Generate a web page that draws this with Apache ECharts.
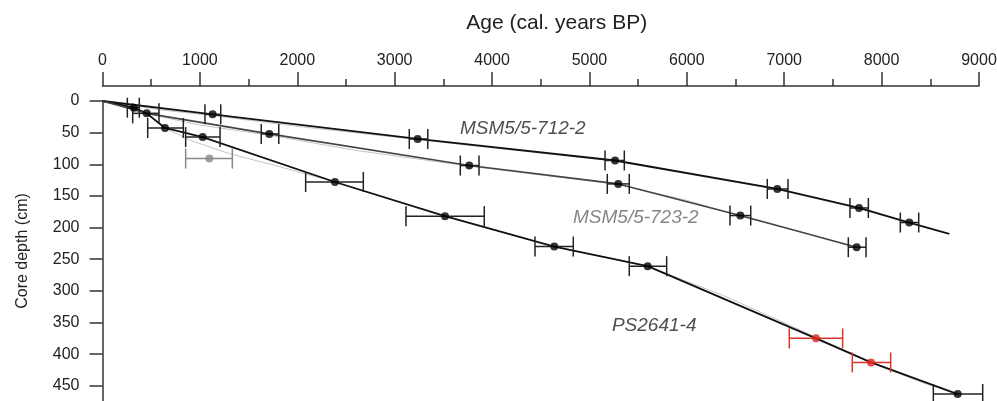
<!DOCTYPE html>
<html>
<head>
<meta charset="utf-8">
<script src="https://cdn.jsdelivr.net/npm/echarts@6/dist/echarts.min.js"></script>
<style>
  html, body { margin: 0; padding: 0; background: #fff; }
  #chart { width: 997px; height: 401px; }
</style>
</head>
<body>
<div id="chart"></div>
<script>
// age-depth models [age, depth]
var ps2641Line = [[0, 0], [323, 10.6], [454, 19.5], [642, 42.6], [1029, 57], [2387, 128], [3517, 182], [4639, 230], [5598, 261], [7326, 375], [7891, 413], [8781, 463]];
var msm712Line = [[0, 0], [1131, 21], [3236, 60], [5263, 94], [6929, 139], [7768, 169], [8284, 192], [8695, 210]];
var msm723Line = [[0, 0], [454, 19.5], [1713, 52], [3766, 102], [5296, 131], [6549, 181], [7744, 231]];

// alternative models (thin grey)
var ps2641Alt = [[0, 0], [323, 11], [454, 20], [642, 43], [900, 62], [1300, 83], [1800, 103], [2387, 128], [3517, 182], [4639, 230], [5598, 261], [6400, 309], [7326, 373], [7891, 413], [8400, 444], [8781, 463]];
var msm712Alt = [[0, 0], [600, 14], [1131, 23], [2000, 40], [3236, 61], [5263, 95], [6929, 140], [7768, 170], [8284, 193]];
var msm723Alt = [[0, 0], [454, 20], [1000, 38], [1713, 54], [2600, 78], [3766, 103], [5296, 132], [6000, 157], [6549, 182], [7200, 208], [7744, 232]];

// dated samples [age, depth, ageMin, ageMax]
var datesBlack = [
    [323, 10.6, 255, 378], [454, 19.5, 310, 580], [642, 42.6, 464, 830], [1029, 57, 854, 1207],
    [2387, 128, 2086, 2678], [3517, 182, 3116, 3920], [4639, 230, 4441, 4834], [5598, 261, 5409, 5793],
    [8781, 463, 8531, 9038],
    [1131, 21, 1052, 1214], [3236, 60, 3150, 3340], [5263, 94, 5160, 5358], [6929, 139, 6826, 7039],
    [7768, 169, 7675, 7864], [8284, 192, 8192, 8381],
    [1713, 52, 1630, 1810], [3766, 102, 3674, 3866], [5296, 131, 5183, 5409], [6549, 181, 6443, 6656],
    [7744, 231, 7658, 7840]
];
var datesRed = [[7326, 375, 7052, 7600], [7891, 413, 7699, 8093]];
var datesGrey = [[1097, 91, 854, 1333]];

// core names [age, depth, text]
var coreLabels = [[3671, 44, 'MSM5/5-712-2'], [5231, 355, 'PS2641-4']];
var coreLabelsGrey = [[4831, 184, 'MSM5/5-723-2']];

var font = 'Liberation Sans, Arial, sans-serif';
var chart = echarts.init(document.getElementById('chart'));

function errorBars(color) {
    return function (params, api) {
        var depth = api.value(2);
        var a = api.coord([api.value(0), depth]);
        var b = api.coord([api.value(1), depth]);
        var h = 10;
        var style = { stroke: color, lineWidth: 1.5, fill: null };
        return {
            type: 'group',
            children: [
                { type: 'line', shape: { x1: a[0], y1: a[1], x2: b[0], y2: b[1] }, style: style },
                { type: 'line', shape: { x1: a[0], y1: a[1] - h, x2: a[0], y2: a[1] + h }, style: style },
                { type: 'line', shape: { x1: b[0], y1: b[1] - h, x2: b[0], y2: b[1] + h }, style: style }
            ]
        };
    };
}

function errSeries(list, color) {
    return {
        type: 'custom',
        renderItem: errorBars(color),
        data: list.map(function (d) { return [d[2], d[3], d[1]]; }),
        encode: { x: [0, 1], y: 2 },
        z: 3,
        silent: true
    };
}

function pointSeries(list, color) {
    return {
        type: 'scatter',
        symbol: 'circle',
        symbolSize: 8,
        itemStyle: { color: color },
        data: list.map(function (d) { return [d[0], d[1]]; }),
        z: 5
    };
}

function lineSeries(data, color, width, z) {
    return {
        type: 'line',
        data: data,
        symbol: 'none',
        lineStyle: { color: color, width: width },
        z: z,
        silent: true
    };
}

function labelSeries(list, color) {
    return {
        type: 'scatter',
        symbolSize: 0,
        data: list,
        label: {
            show: true,
            position: 'right',
            distance: 0,
            formatter: function (p) { return p.value[2]; },
            fontFamily: font,
            fontStyle: 'italic',
            fontSize: 19,
            color: color
        },
        z: 6,
        silent: true
    };
}

var axisColor = '#333';

var option = {
    animation: false,
    backgroundColor: '#fff',
    textStyle: { fontFamily: font },
    grid: { left: 102.5, right: 18, top: 101, bottom: 0, outerBoundsMode: 'none' },
    xAxis: {
        type: 'value',
        position: 'top',
        offset: 15,
        min: 0,
        max: 9000,
        interval: 1000,
        name: 'Age (cal. years BP)',
        nameLocation: 'middle',
        nameGap: 52,
        nameTextStyle: { fontSize: 21, color: '#222', fontFamily: font, padding: [0, 0, 0, 32] },
        axisLine: { show: true, onZero: false, lineStyle: { color: axisColor, width: 1.5 } },
        axisTick: { show: true, length: 14, lineStyle: { color: axisColor, width: 1.5 } },
        minorTick: { show: true, splitNumber: 2, length: 7, lineStyle: { color: axisColor, width: 1.5 } },
        axisLabel: {
            fontSize: 16, color: '#222', margin: 17, fontFamily: font,
            formatter: function (v) { return String(v); }
        },
        splitLine: { show: false },
        minorSplitLine: { show: false }
    },
    yAxis: {
        type: 'value',
        inverse: true,
        min: 0,
        max: 474,
        interval: 50,
        name: 'Core depth (cm)',
        nameLocation: 'middle',
        nameGap: 72,
        nameTextStyle: { fontSize: 16, color: '#222', fontFamily: font },
        axisLine: { show: true, onZero: false, lineStyle: { color: axisColor, width: 1.5 } },
        axisTick: { show: true, length: 13, lineStyle: { color: axisColor, width: 1.5 } },
        axisLabel: { fontSize: 16, color: '#222', margin: 23, showMaxLabel: false, fontFamily: font },
        splitLine: { show: false }
    },
    series: [
        lineSeries(ps2641Alt, '#c4c4c4', 1, 1),
        lineSeries(msm712Alt, '#c4c4c4', 1, 1),
        lineSeries(msm723Alt, '#c4c4c4', 1, 1),
        lineSeries(ps2641Line, '#111', 1.8, 2),
        lineSeries(msm712Line, '#111', 1.8, 2),
        lineSeries(msm723Line, '#444', 1.6, 2),
        errSeries(datesBlack, '#222'),
        errSeries(datesRed, '#d9352b'),
        errSeries(datesGrey, '#888'),
        pointSeries(datesBlack, '#000'),
        pointSeries(datesRed, '#d9261c'),
        pointSeries(datesGrey, '#888'),
        labelSeries(coreLabels, '#222'),
        labelSeries(coreLabelsGrey, '#666')
    ]
};

chart.setOption(option);
</script>
</body>
</html>
